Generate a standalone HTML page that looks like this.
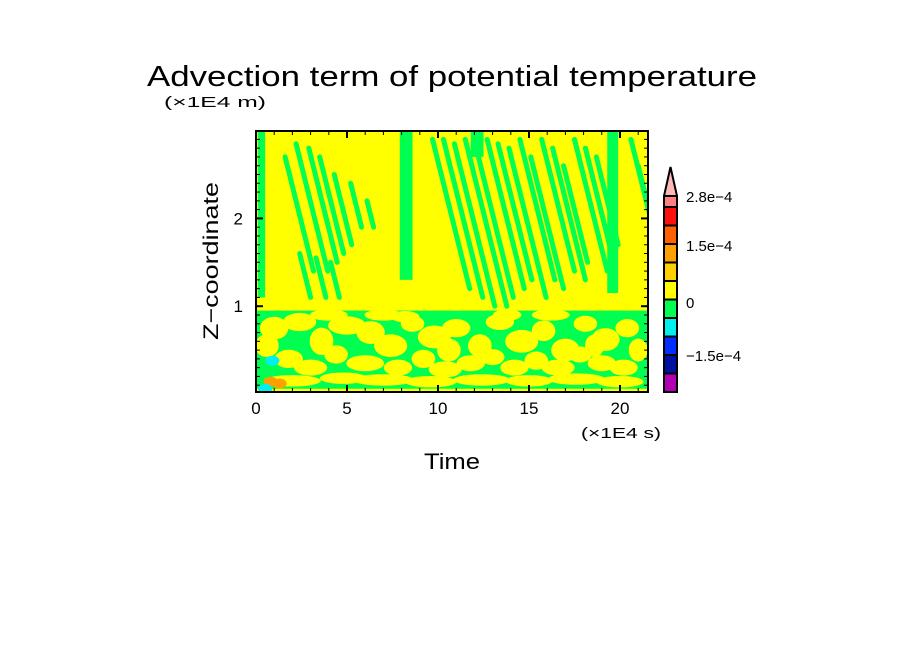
<!DOCTYPE html>
<html><head><meta charset="utf-8"><style>
html,body{margin:0;padding:0;background:#fff;}
svg{display:block;font-family:"Liberation Sans",sans-serif;}
</style></head><body>
<svg id="chart" width="904" height="654" viewBox="0 0 904 654" xmlns="http://www.w3.org/2000/svg">
<defs><clipPath id="pc"><rect x="256" y="131" width="392" height="261"/></clipPath></defs>
<text x="147" y="86" font-size="29" textLength="610" lengthAdjust="spacingAndGlyphs">Advection term of potential temperature</text>
<text x="164" y="107" font-size="15" textLength="102" lengthAdjust="spacingAndGlyphs">(×1E4 m)</text>
<g id="field" clip-path="url(#pc)"></g>
<rect x="256" y="131" width="392" height="261" fill="none" stroke="#000" stroke-width="2"/>
<g id="axes"></g>
<text x="581" y="438" font-size="15" textLength="80" lengthAdjust="spacingAndGlyphs">(×1E4 s)</text>
<text x="424" y="469" font-size="22" textLength="56" lengthAdjust="spacingAndGlyphs">Time</text>
<text transform="translate(218,340) rotate(-90)" font-size="21" textLength="158" lengthAdjust="spacingAndGlyphs">Z−coordinate</text>
<g id="cbar"></g>
</svg>
<script>
const xTicksMajor=[0,5,10,15,20];
const yTicksMajor=[1,2];
const cbColors=["#ff8080","#ff1010","#ff6000","#ffa000","#ffd000","#ffff00","#00ff50","#00f0f0","#0030ff","#0010a0","#b000b0"];
const cbLabels=["2.8e-4","1.5e-4","0","-1.5e-4"];
const cbLabelY=[196,245,302,355];
// upper-region diagonal stripes: time at top, z top, z bottom
const stripeT=[1.6,2.2,2.9,3.5,4.3,5.2,6.1,2.4,3.3,4.1,9.7,10.3,10.9,11.5,12.1,12.7,13.3,13.9,14.5,15.1,15.7,16.3,16.9,17.5,18.1,18.7,20.6,21.0];
const stripeZTop=[2.7,2.85,2.8,2.7,2.5,2.4,2.2,1.6,1.55,1.5,2.9,2.9,2.85,2.9,2.8,2.9,2.85,2.8,2.9,2.7,2.9,2.8,2.6,2.9,2.8,2.7,2.9,2.6];
const stripeZBot=[1.4,1.4,1.5,1.6,1.7,1.9,1.9,1.1,1.1,1.1,1.2,1.1,1.0,1.0,1.1,1.2,1.3,1.1,1.3,1.2,1.4,1.3,1.5,1.4,1.6,1.7,1.2,1.4];
// vertical green bands: start time, end time, z bottom
const bandT0=[0.1,7.9,19.3,11.8];
const bandT1=[0.5,8.6,19.9,12.5];
const bandZ=[1.1,1.3,1.15,2.7];
// lower region yellow holes: time, z, rx (time units), rz (z units)
const holeT=[1.0,2.4,3.6,5.0,6.3,7.4,8.6,9.8,11.0,12.3,13.4,14.6,15.8,17.0,18.1,19.2,20.4,1.8,3.0,4.4,6.0,7.8,9.2,10.4,11.8,13.0,14.2,15.4,16.6,17.8,19.0,20.2,2.0,4.8,7.0,9.6,12.4,15.0,17.6,20.0,0.6,8.2,13.8,18.6,4.0,7.0,10.6,16.2,21.0];
const holeZ=[0.75,0.82,0.6,0.78,0.7,0.55,0.8,0.65,0.75,0.55,0.82,0.6,0.72,0.5,0.8,0.62,0.75,0.4,0.3,0.45,0.35,0.3,0.4,0.28,0.35,0.42,0.3,0.38,0.3,0.45,0.35,0.3,0.15,0.18,0.16,0.14,0.16,0.15,0.17,0.14,0.55,0.88,0.9,0.55,0.9,0.9,0.5,0.9,0.5];
const holeRx=[0.6,0.7,0.5,0.8,0.6,0.7,0.5,0.7,0.6,0.5,0.6,0.7,0.5,0.6,0.5,0.6,0.5,0.6,0.7,0.5,0.8,0.6,0.5,0.7,0.6,0.5,0.6,0.5,0.7,0.5,0.6,0.6,1.2,1.0,1.3,1.1,1.2,1.0,1.2,1.0,0.5,0.6,0.6,0.4,0.8,0.8,0.5,0.8,0.4];
const holeRz=[0.1,0.08,0.12,0.08,0.1,0.1,0.07,0.1,0.08,0.1,0.07,0.1,0.09,0.1,0.07,0.1,0.08,0.08,0.07,0.08,0.07,0.07,0.08,0.07,0.07,0.07,0.07,0.08,0.07,0.07,0.07,0.07,0.05,0.05,0.05,0.05,0.05,0.05,0.05,0.05,0.1,0.05,0.05,0.1,0.05,0.05,0.1,0.05,0.1];
// small off-zero spots: time, z, colour index
const spotT=[0.9,0.8,1.3,0.5];
const spotZ=[0.38,0.14,0.12,0.06];
const spotC=[7,3,3,7];

const X=t=>256+t*18.2, Y=z=>394-z*87.8;
const NS="http://www.w3.org/2000/svg";
function mk(tag,attrs,parent){const e=document.createElementNS(NS,tag);for(const k in attrs)e.setAttribute(k,attrs[k]);parent.appendChild(e);return e;}
const fieldG=document.getElementById('field');
let e=mk('rect',{x:256,y:131,width:392,height:261,fill:'#ffff00'},fieldG);


e=mk('rect',{x:X(0),y:Y(0.95),width:X(21.5)-X(0),height:Y(0.06)-Y(0.95),fill:'#00ff50'},fieldG);


holeT.forEach((t,i)=>{const el=mk('ellipse',{cx:X(t),cy:Y(holeZ[i]),rx:holeRx[i]*18.2*1.3,ry:holeRz[i]*87.8*1.3,fill:'#ffff00'},fieldG);

});
bandT0.forEach((t,i)=>{const el=mk('rect',{x:X(t),y:Y(3),width:X(bandT1[i])-X(t),height:Y(bandZ[i])-Y(3),fill:'#00ff50'},fieldG);

});
stripeT.forEach((t,i)=>{const dz=stripeZTop[i]-stripeZBot[i];const t2=t+dz*1.2;
const el=mk('line',{x1:X(t),y1:Y(stripeZTop[i]),x2:X(t2),y2:Y(stripeZBot[i]),stroke:'#00ff50','stroke-width':5,'stroke-linecap':'round'},fieldG);

});
spotT.forEach((t,i)=>{const el=mk('ellipse',{cx:X(t),cy:Y(spotZ[i]),rx:7,ry:5,fill:cbColors[spotC[i]]},fieldG);

});
const ax=document.getElementById('axes');
for(let t=0;t<=21;t++){const major=t%5===0;
[392,131].forEach(y=>{const el=mk('line',{x1:X(t),x2:X(t),y1:y,y2:y===392?y-(major?7:4):y+(major?7:4),stroke:'#000','stroke-width':major?2:1},ax);

});}
xTicksMajor.forEach(t=>{const el=mk('text',{x:X(t),y:414,'font-size':17,'text-anchor':'middle'},ax);el.textContent=t;

});
for(let k=1;k<=29;k++){const z=k/10;const major=k%10===0;
[256,648].forEach(x=>{const el=mk('line',{x1:x,x2:x===256?x+(major?7:4):x-(major?7:4),y1:Y(z),y2:Y(z),stroke:'#000','stroke-width':major?2:1},ax);

});}
yTicksMajor.forEach(z=>{const el=mk('text',{x:243,y:Y(z)+6,'font-size':17,'text-anchor':'end'},ax);el.textContent=z;

});
const cb=document.getElementById('cbar');
const cbTop=207, cbStep=(392-207)/10;
e=mk('polygon',{points:'664,207 677,207 677,196 670.5,167 664,196',fill:'#ffb8b8',stroke:'#000','stroke-width':2},cb);


cbColors.forEach((c,i)=>{const y=i===0?196:cbTop+(i-1)*cbStep;const hh=i===0?11:cbStep;
const el=mk('rect',{x:664,y:y,width:13,height:hh,fill:c,stroke:'#000','stroke-width':2},cb);

});
cbLabels.forEach((l,i)=>{
const el=mk('text',{x:686,y:cbLabelY[i]+6,'font-size':15},cb);el.textContent=l.replace(/-/g,'−');

});
</script>
</body></html>
